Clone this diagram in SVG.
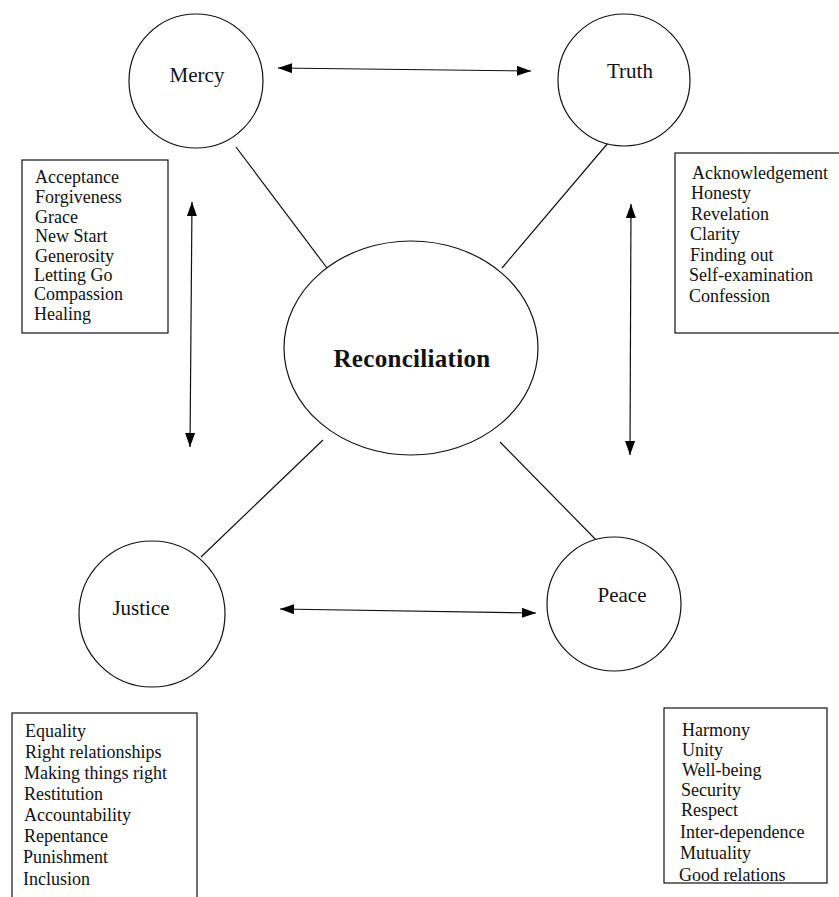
<svg xmlns="http://www.w3.org/2000/svg" width="839" height="897" viewBox="0 0 839 897">
<defs>
<marker id="ah" viewBox="0 0 14 10" refX="14" refY="5" markerWidth="14" markerHeight="10" markerUnits="userSpaceOnUse" orient="auto-start-reverse">
<path d="M0,0 L14,5 L0,10 Z" fill="#000"/>
</marker>
<style>
.node{fill:#fff;stroke:#111;stroke-width:1.2}
.lbl{font-family:"Liberation Serif","Times New Roman",serif;font-size:21px;fill:#111;text-anchor:middle}
.main{font-family:"Liberation Serif","Times New Roman",serif;font-size:25px;font-weight:bold;fill:#111;text-anchor:middle;letter-spacing:0.3px}
.box{fill:#fff;stroke:#111;stroke-width:1.2}
.item{font-family:"Liberation Serif","Times New Roman",serif;font-size:18px;fill:#111}
.link{stroke:#111;stroke-width:1.2;fill:none}
.arr{stroke:#111;stroke-width:1.2;fill:none;marker-start:url(#ah);marker-end:url(#ah)}
</style>
</defs>
<rect width="839" height="897" fill="#fff"/>
<g id="connectors">
<line class="link" x1="236" y1="147" x2="327" y2="268"/>
<line class="link" x1="608" y1="143" x2="502" y2="268"/>
<line class="link" x1="201" y1="557" x2="323" y2="440"/>
<line class="link" x1="604" y1="548" x2="500" y2="442"/>
<line class="arr" x1="278" y1="68" x2="531" y2="71"/>
<line class="arr" x1="280" y1="609" x2="536" y2="613"/>
<line class="arr" x1="192" y1="202" x2="190" y2="447"/>
<line class="arr" x1="631" y1="204" x2="630" y2="455"/>
</g>
<g id="mercy">
<circle class="node" cx="196" cy="81" r="67"/>
<text class="lbl" x="197" y="82">Mercy</text>
</g>
<g id="truth">
<circle class="node" cx="624" cy="80" r="66"/>
<text class="lbl" x="630" y="78">Truth</text>
</g>
<g id="reconciliation">
<ellipse class="node" cx="411" cy="348" rx="127" ry="107"/>
<text class="main" x="412" y="367">Reconciliation</text>
</g>
<g id="justice">
<circle class="node" cx="152" cy="614" r="73"/>
<text class="lbl" x="141" y="615">Justice</text>
</g>
<g id="peace">
<circle class="node" cx="614" cy="604" r="67"/>
<text class="lbl" x="622" y="602">Peace</text>
</g>
<g id="mercy-box">
<rect class="box" x="22" y="160" width="146" height="173"/>
<text class="item" x="35" y="183">Acceptance</text>
<text class="item" x="35" y="203">Forgiveness</text>
<text class="item" x="35" y="223">Grace</text>
<text class="item" x="35" y="242">New Start</text>
<text class="item" x="35" y="262">Generosity</text>
<text class="item" x="34" y="281">Letting Go</text>
<text class="item" x="34" y="300">Compassion</text>
<text class="item" x="34" y="320">Healing</text>
</g>
<g id="truth-box">
<rect class="box" x="675" y="153" width="170" height="180"/>
<text class="item" x="692" y="179">Acknowledgement</text>
<text class="item" x="691" y="199">Honesty</text>
<text class="item" x="691" y="220">Revelation</text>
<text class="item" x="690" y="240">Clarity</text>
<text class="item" x="690" y="261">Finding out</text>
<text class="item" x="689" y="281">Self-examination</text>
<text class="item" x="689" y="302">Confession</text>
</g>
<g id="justice-box">
<rect class="box" x="12" y="713" width="185" height="200"/>
<text class="item" x="25" y="737">Equality</text>
<text class="item" x="25" y="758">Right relationships</text>
<text class="item" x="24" y="779">Making things right</text>
<text class="item" x="24" y="800">Restitution</text>
<text class="item" x="24" y="821">Accountability</text>
<text class="item" x="24" y="842">Repentance</text>
<text class="item" x="23" y="863">Punishment</text>
<text class="item" x="23" y="885">Inclusion</text>
</g>
<g id="peace-box">
<rect class="box" x="664" y="708" width="163" height="175"/>
<text class="item" x="682" y="736">Harmony</text>
<text class="item" x="682" y="756">Unity</text>
<text class="item" x="682" y="776">Well-being</text>
<text class="item" x="681" y="796">Security</text>
<text class="item" x="681" y="816">Respect</text>
<text class="item" x="680" y="838">Inter-dependence</text>
<text class="item" x="680" y="859">Mutuality</text>
<text class="item" x="679" y="881">Good relations</text>
</g>
</svg>
